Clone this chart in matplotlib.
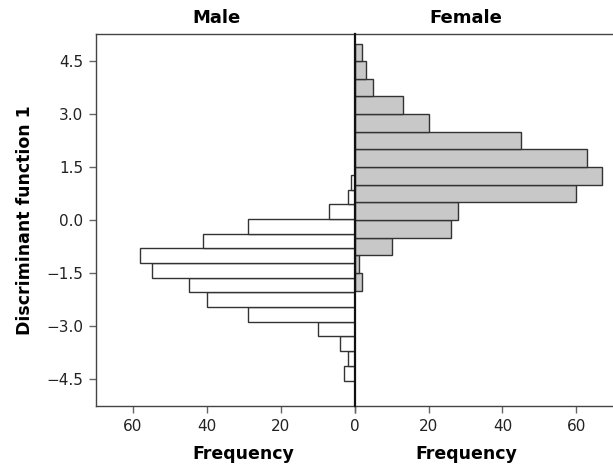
import numpy as np
import matplotlib
matplotlib.use("Agg")
import matplotlib.pyplot as plt

plt.rcParams['font.family'] = ['DejaVu Sans']

# male histogram: bin edges (bottom to top) and counts
male_edges = [-4.55, -4.13, -3.72, -3.30, -2.88, -2.47, -2.05, -1.63,
              -1.22, -0.80, -0.39, 0.03, 0.44, 0.86, 1.28]
male_counts = [3, 2, 4, 10, 29, 40, 45, 55, 58, 41, 29, 7, 2, 1]

# female histogram
female_edges = [-2.0, -1.5, -1.0, -0.5, 0.0, 0.5, 1.0, 1.5,
                2.0, 2.5, 3.0, 3.5, 4.0, 4.5, 5.0]
female_counts = [2, 1, 10, 26, 28, 60, 67, 63, 45, 20, 13, 5, 3, 2]

y_ticks = [-4.5, -3.0, -1.5, 0.0, 1.5, 3.0, 4.5]
x_ticks = [0, 20, 40, 60]

edge_col = "#333333"
spine_col = "#444444"
tick_fs = 11
lab_fs = 12.5

fig = plt.figure(figsize=(6.13, 4.65), dpi=100)
ax_m = fig.add_axes([96/613, 1-406/465, 259/613, 372/465])
ax_f = fig.add_axes([355/613, 1-406/465, 258/613, 372/465], sharey=ax_m)

me = np.array(male_edges)
ax_m.barh(me[:-1], male_counts, height=np.diff(me), align='edge',
          color='white', edgecolor=edge_col, linewidth=1.0)
fe = np.array(female_edges)
ax_f.barh(fe[:-1], female_counts, height=np.diff(fe), align='edge',
          color='#c8c8c8', edgecolor=edge_col, linewidth=1.0)

ax_m.set_xlim(70, 0)
ax_f.set_xlim(0, 70)
ax_m.set_ylim(-5.27, 5.27)

for ax in (ax_m, ax_f):
    ax.set_xticks(x_ticks)
    ax.tick_params(axis='x', direction='out', length=5, width=1, color='#666666', pad=4)
    for s in ax.spines.values():
        s.set_color(spine_col)
        s.set_linewidth(1.0)
ax_m.set_xticklabels([str(t) for t in x_ticks], fontsize=tick_fs, color='#222222')
# the shared 0 is labelled once, by the male pane
ax_f.set_xticklabels([str(t) if t else "" for t in x_ticks], fontsize=tick_fs, color='#222222')

ax_m.spines['right'].set_visible(False)
ax_f.spines['right'].set_visible(False)
ax_f.spines['left'].set_color('#111111')
ax_f.spines['left'].set_linewidth(1.6)
ax_f.spines['left'].set_zorder(5)

ax_m.set_yticks(y_ticks)
ax_m.set_yticklabels([("%.1f" % t).replace("-", "\u2212") for t in y_ticks],
                     fontsize=tick_fs, color='#222222')
ax_m.tick_params(axis='y', direction='out', length=5, width=1, color='#666666', pad=4)
ax_f.tick_params(axis='y', left=False, labelleft=False)

ax_m.set_ylabel("Discriminant function 1", fontsize=lab_fs, fontweight='bold')
ax_m.yaxis.set_label_coords(-0.24, 0.5)
ax_m.set_xlabel("Frequency", fontsize=lab_fs, fontweight='bold')
ax_f.set_xlabel("Frequency", fontsize=lab_fs, fontweight='bold')
ax_m.xaxis.set_label_coords(0.568, -0.105)
ax_f.xaxis.set_label_coords(0.43, -0.105)

fig.text(217/613, 1-18/465, "Male", fontsize=lab_fs + 0.5, fontweight='bold', ha='center', va='center')
fig.text(466/613, 1-18/465, "Female", fontsize=lab_fs + 0.5, fontweight='bold', ha='center', va='center')

fig.savefig("out.png", dpi=100)
